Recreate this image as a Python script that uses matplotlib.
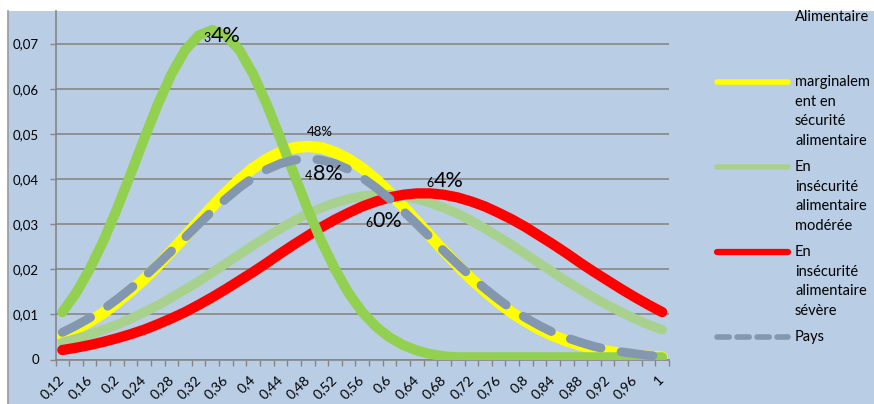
import numpy as np
import matplotlib
matplotlib.use("Agg")
import matplotlib.pyplot as plt
from matplotlib.lines import Line2D
from matplotlib.patches import Rectangle

plt.rcParams['font.family'] = ['Lato', 'DejaVu Sans']

# share of households (x) and density for each group
categories = [0.12, 0.14, 0.16, 0.18, 0.20, 0.22, 0.24, 0.26, 0.28, 0.30,
              0.32, 0.34, 0.36, 0.38, 0.40, 0.42, 0.44, 0.46, 0.48, 0.50,
              0.52, 0.54, 0.56, 0.58, 0.60, 0.62, 0.64, 0.66, 0.68, 0.70,
              0.72, 0.74, 0.76, 0.78, 0.80, 0.82, 0.84, 0.86, 0.88, 0.90,
              0.92, 0.94, 0.96, 0.98, 1.00]

securite = [0.0105, 0.0147, 0.0200, 0.0262, 0.0333, 0.0410, 0.0489, 0.0565, 0.0632, 0.0685,
            0.0718, 0.0730, 0.0718, 0.0685, 0.0632, 0.0565, 0.0489, 0.0410, 0.0333, 0.0262,
            0.0200, 0.0147, 0.0105, 0.0073, 0.0049, 0.0032, 0.0020, 0.0012, 0.0007, 0.0005,
            0.0005, 0.0005, 0.0005, 0.0005, 0.0005, 0.0005, 0.0005, 0.0005, 0.0005, 0.0005,
            0.0005, 0.0005, 0.0005, 0.0005, 0.0005]

marginal = [0.0053, 0.0067, 0.0084, 0.0103, 0.0126, 0.0151, 0.0178, 0.0208, 0.0240, 0.0273,
            0.0306, 0.0339, 0.0370, 0.0399, 0.0424, 0.0444, 0.0459, 0.0469, 0.0472, 0.0469,
            0.0459, 0.0444, 0.0424, 0.0399, 0.0370, 0.0339, 0.0306, 0.0273, 0.0240, 0.0208,
            0.0178, 0.0151, 0.0126, 0.0103, 0.0084, 0.0067, 0.0053, 0.0041, 0.0032, 0.0024,
            0.0018, 0.0013, 0.0010, 0.0007, 0.0005]

moderee = [0.0038, 0.0046, 0.0055, 0.0066, 0.0077, 0.0090, 0.0105, 0.0120, 0.0137, 0.0155,
           0.0173, 0.0193, 0.0213, 0.0233, 0.0253, 0.0272, 0.0290, 0.0307, 0.0323, 0.0336,
           0.0347, 0.0356, 0.0362, 0.0365, 0.0365, 0.0362, 0.0356, 0.0347, 0.0336, 0.0323,
           0.0307, 0.0290, 0.0272, 0.0253, 0.0233, 0.0213, 0.0193, 0.0173, 0.0155, 0.0137,
           0.0120, 0.0105, 0.0090, 0.0077, 0.0066]

severe = [0.0021, 0.0026, 0.0032, 0.0039, 0.0047, 0.0056, 0.0066, 0.0078, 0.0091, 0.0105,
          0.0121, 0.0138, 0.0156, 0.0175, 0.0194, 0.0214, 0.0235, 0.0255, 0.0274, 0.0293,
          0.0310, 0.0325, 0.0339, 0.0350, 0.0359, 0.0365, 0.0368, 0.0368, 0.0365, 0.0359,
          0.0350, 0.0339, 0.0325, 0.0310, 0.0293, 0.0274, 0.0255, 0.0235, 0.0214, 0.0194,
          0.0175, 0.0156, 0.0138, 0.0121, 0.0105]

pays = [0.0060, 0.0075, 0.0092, 0.0111, 0.0133, 0.0157, 0.0183, 0.0211, 0.0240, 0.0270,
        0.0300, 0.0329, 0.0356, 0.0381, 0.0403, 0.0421, 0.0434, 0.0442, 0.0445, 0.0442,
        0.0434, 0.0421, 0.0403, 0.0381, 0.0356, 0.0329, 0.0300, 0.0270, 0.0240, 0.0211,
        0.0183, 0.0157, 0.0133, 0.0111, 0.0092, 0.0075, 0.0060, 0.0048, 0.0038, 0.0029,
        0.0022, 0.0017, 0.0013, 0.0009, 0.0007]

y_ticks = [0, 0.01, 0.02, 0.03, 0.04, 0.05, 0.06, 0.07]

BG = "#B9CDE5"
W, H = 874, 404

def fx(px):
    return px / W

def fy(py):
    return 1 - py / H

fig = plt.figure(figsize=(W / 100, H / 100), dpi=100, facecolor="white")
# chart area background with its left border
fig.patches.append(Rectangle((fx(7.5), 0), 1 - fx(7.5), fy(11), transform=fig.transFigure,
                             facecolor=BG, edgecolor="none", zorder=-10))
fig.lines.append(Line2D([fx(7.5), fx(7.5)], [0, fy(11)], transform=fig.transFigure,
                        color="#9A9A9A", lw=1.2, zorder=-9))

ax = fig.add_axes([fx(55.5), fy(359.5), fx(669) - fx(55.5), fy(11) - fy(359.5)])
ax.set_facecolor(BG)

x = np.arange(len(categories))
ax.plot(x, marginal, color="#FFFF00", lw=8.2, solid_capstyle="round", zorder=2)
ax.plot(x, moderee, color="#A9D18E", lw=6.8, solid_capstyle="round", zorder=3)
ax.plot(x, severe, color="#FF0000", lw=7.4, solid_capstyle="round", zorder=4)
ax.plot(x, securite, color="#92D050", lw=7.2, solid_capstyle="round", zorder=5)
ax.plot(x, pays, color="#8497B0", lw=6.4, dashes=(3.6, 2.3), dash_capstyle="round", zorder=6)

ax.set_xlim(-0.5, len(categories) - 0.5)
ax.set_ylim(0, (359.5 - 11) / 45.14 * 0.01)

ax.set_yticks(y_ticks)
ax.set_yticklabels(["0" if v == 0 else f"{v:.2f}".replace(".", ",") for v in y_ticks], fontsize=9.5)
ax.set_xticks(x[::2])
ax.set_xticklabels([f"{v:g}".replace(".", ",") for v in categories[::2]], fontsize=10,
                   rotation=45, ha="right", va="center", rotation_mode="anchor")
ax.set_xticks(np.arange(-0.5, len(categories), 1), minor=True)
ax.tick_params(axis="x", which="major", length=0, pad=13)
ax.tick_params(axis="x", which="minor", length=4, color="#868686", width=1)
ax.tick_params(axis="y", length=4, color="#868686", width=1, pad=8)

ax.grid(axis="y", color="#8C8C8C", lw=1.3, zorder=1)
ax.set_axisbelow(True)
for s in ["top", "right"]:
    ax.spines[s].set_visible(False)
for s in ["left", "bottom"]:
    ax.spines[s].set_color("#868686")
    ax.spines[s].set_linewidth(1.2)

# mean labels: a small first digit overlapped by the rest of the number
def mean_label(xpos, ypos, small, big, big_size=15.5):
    if small:
        ax.text(xpos, ypos, small, fontsize=9, ha="right", va="baseline", zorder=10)
    ax.text(xpos, ypos, big, fontsize=big_size, ha="left", va="baseline", zorder=10)

mean_label(10.9, 0.0703, "3", "4%")
ax.text(18.87, 0.0495, "48%", fontsize=9.5, ha="center", va="baseline", zorder=10)
mean_label(18.36, 0.0397, "4", "8%")
mean_label(22.76, 0.0294, "6", "0%")
mean_label(27.27, 0.0382, "6", "4%")

# legend on the right
leg_x0, leg_x1, txt_x = 717, 788, 795
line_h = 19.7
fig.text(fx(txt_x), fy(17), "Alimentaire", fontsize=10.5, va="center", ha="left")
entries = [
    (82, ["marginalem", "ent en", "sécurité", "alimentaire"], dict(color="#FFFF00", lw=4)),
    (167, ["En", "insécurité", "alimentaire", "modérée"], dict(color="#A9D18E", lw=4)),
    (252, ["En", "insécurité", "alimentaire", "sévère"], dict(color="#FF0000", lw=4.5)),
    (337, ["Pays"], dict(color="#8497B0", lw=4, dashes=(2.2, 1.4))),
]
for ypix, lines, style in entries:
    fig.lines.append(Line2D([fx(leg_x0), fx(leg_x1)], [fy(ypix), fy(ypix)], transform=fig.transFigure,
                            solid_capstyle="round", dash_capstyle="round", **style))
    for k, t in enumerate(lines):
        fig.text(fx(txt_x), fy(ypix + k * line_h), t, fontsize=10.5, va="center", ha="left")

fig.savefig("out.png", dpi=100, facecolor="white")
